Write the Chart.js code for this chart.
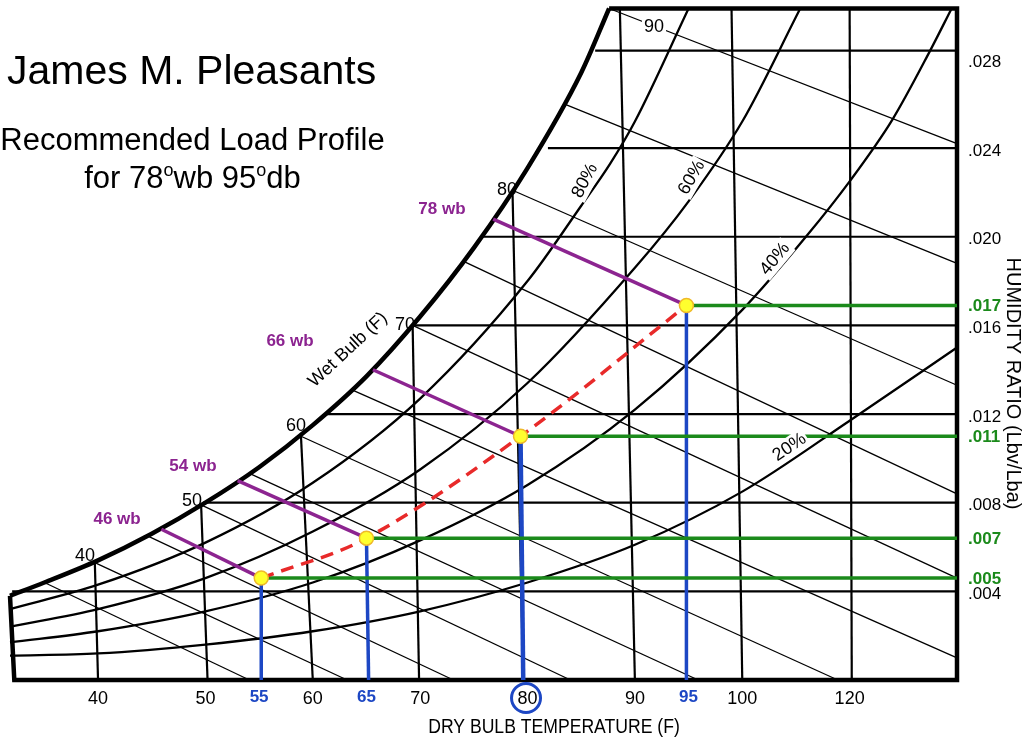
<!DOCTYPE html>
<html>
<head>
<meta charset="utf-8">
<script src="https://cdn.jsdelivr.net/npm/chart.js@4.4.1/dist/chart.umd.min.js"></script>
<style>
  body { margin: 0; background: #fff; font-family: "Liberation Sans", Arial, sans-serif; }
  #wrap { position: relative; width: 1027px; height: 742px; overflow: hidden; }
  canvas { position: absolute; left: 0; top: 0; }
  .t { position: absolute; color: #000; white-space: nowrap; line-height: 1; }
  .deg { font-size: 18px; position: relative; top: -12px; }
</style>
</head>
<body>
<div id="wrap">
  <canvas id="psyChart" width="1027" height="742"></canvas>
  <div class="t" style="left:7px; top:50px; font-size:41px;">James M. Pleasants</div>
  <div class="t" style="left:0; width:385px; text-align:center; top:124px; font-size:31px;">Recommended Load Profile</div>
  <div class="t" style="left:0; width:385px; text-align:center; top:162px; font-size:31px;">for 78<span class="deg">o</span>wb 95<span class="deg">o</span>db</div>
</div>
<script>
// axis extents: dry bulb (F) and humidity ratio (lb/lb)
const dbRange = [31.8, 120];
const wRange = [0, 0.0303];

// saturation curve (100% RH)
const satCurve = [[31.8,.0038],[35,.0044],[40,.0054],[45,.0066],[50,.0080],[55,.0096],[60,.0115],
  [65,.0137],[70,.0164],[75,.0195],[80,.0231],[85,.0274],[87.6,.0303]];

// relative humidity curves
const rh80 = [[31.8,.0032],[40,.0043],[50,.0062],[60,.0089],[70,.0127],[80,.0180],[85,.0214],[87.7,.0233],[90,.0252],[95,.0303]];
const rh60 = [[31.8,.0024],[40,.0032],[50,.0046],[60,.0067],[70,.0095],[80,.0134],[90,.0186],[95,.0216],[100,.0252],[105.4,.0303]];
const rh40 = [[31.8,.0017],[40,.0022],[50,.0031],[60,.0044],[70,.0063],[80,.0088],[90,.0122],[100,.0167],[106.1,.0201],[110,.0225],[114,.0253],[117.5,.0284],[119.5,.0303]];
const rh20 = [[31.8,.0011],[40,.0012],[50,.0016],[60,.0022],[70,.0031],[80,.0044],[90,.0061],[100,.0085],[110,.0117],[120,.0150]];

// wet bulb lines: start on saturation, end on bottom / right edge
const wbStart = [[35,.0044],[39.7,.0053],[44.6,.0065],[49.6,.0079],[54.2,.0093],[58.9,.0110],
  [63.6,.0131],[69.3,.0160],[74,.0189],[78.6,.0221],[83.4,.0260],[87.6,.0303]];
const wbEnd = [[54.1,0],[63.2,0],[73.1,0],[84,0],[95.9,0],[108.9,0],
  [120,.0010],[120,.0046],[120,.0084],[120,.0133],[120,.0188],[120,.0242]];

// dry bulb lines (slightly slanted)
const dbTop = [[39.7,.0053],[49.6,.0079],[58.9,.0110],[69.3,.0160],[78.6,.0221],[88.6,.0303],[99,.0303],[110,.0303]];
const dbBottom = [[40,0],[50.2,0],[60,0],[69.9,0],[79.6,0],[90,0],[100,0],[110.2,0]];

// horizontal humidity ratio lines
const wLines = [.004, .008, .012, .016, .020, .024, .0284];
const wLineStart = [32.0, 49.8, 61.1, 69.3, 75.7, 81.9, 86.3];

// recommended load profile
const loadDb = [55.2, 65.0, 79.35, 94.8];
const loadW = [.0046, .0064, .0110, .0169];
const loadDbBottom = [55.2, 65.2, 79.6, 94.8];
const loadWbStart = [[45.9,.0068],[53.0,.0090],[65.6,.0140],[76.8,.0208]];
const loadWbText = ['46 wb', '54 wb', '66 wb', '78 wb'];
const loadWbTextPos = [[41.77,.00723],[48.84,.00965],[57.88,.01526],[72.03,.02123]];
const loadWText = ['.005', '.007', '.011', '.017'];

// tick labels
const dbTickValues = [40, 50, 55, 60, 65, 70, 80, 90, 95, 100, 110];
const dbTickText = ['40', '50', '55', '60', '65', '70', '80', '90', '95', '100', '120'];
const dbHighlight = [55, 65, 95];
const dbCircled = 80;
const wTickValues = [.004, .008, .012, .016, .020, .024, .028];
const wTickText = ['.004', '.008', '.012', '.016', '.020', '.024', '.028'];

// curve labels
const wbLabelText = ['40', '50', '60', '70', '80', '90'];
const wbLabelPos = [[38.79,.00561],[48.75,.00808],[58.44,.01145],[68.59,.01603],[78.09,.02209],[91.78,.02945]];
const rhLabelText = ['80%', '60%', '40%', '20%'];
const rhLabelPos = [[85.35,.02253],[95.3,.02267],[103.05,.0190],[104.4,.0105]];
const rhLabelAngle = [-62, -60, -50, -34];

const FONT = '"Liberation Sans", Arial, sans-serif';
const PURPLE = '#8c2490', GREEN = '#1b8a1b', BLUE = '#1d47c4', RED = '#e82a2a';

function pts(arr) { return arr.map(p => ({ x: p[0], y: p[1] })); }

function lineSet(data, color, width, extra) {
    return Object.assign({
        data: pts(data), borderColor: color, borderWidth: width,
        pointRadius: 0, showLine: true, fill: false, tension: 0, clip: 8
    }, extra || {});
}

// first dataset ends up on top
const datasets = [];
datasets.push({
    data: pts(loadDb.map((d, i) => [d, loadW[i]])), showLine: false,
    pointRadius: 7, backgroundColor: '#ffff2e', borderColor: '#efb92a', borderWidth: 1.5, clip: 8
});
datasets.push(lineSet(loadDb.map((d, i) => [d, loadW[i]]), RED, 3.5, { borderDash: [13, 8], tension: 0.35 }));
loadWbStart.forEach((s, i) => datasets.push(lineSet([s, [loadDb[i], loadW[i]]], PURPLE, 3.5)));
loadDb.forEach((d, i) => datasets.push(lineSet([[d, loadW[i]], [dbRange[1], loadW[i]]], GREEN, 3.5)));
loadDb.forEach((d, i) => datasets.push(lineSet([[d, loadW[i]], [loadDbBottom[i], 0]], BLUE, i === 2 ? 4.5 : 3.5)));

// chart outline and saturation curve
datasets.push(lineSet(satCurve, '#000', 4.5, { cubicInterpolationMode: 'monotone' }));
datasets.push(lineSet([[87.6, wRange[1]], [dbRange[1], wRange[1]], [dbRange[1], 0], [32.2, 0], [31.8, .0038]],
    '#000', 4.5, { borderJoinStyle: 'miter' }));

// grid
dbTop.forEach((t, i) => datasets.push(lineSet([t, dbBottom[i]], '#000', 2.2)));
wLines.forEach((w, i) => datasets.push(lineSet([[wLineStart[i], w], [dbRange[1], w]], '#000', 2.2)));
[rh80, rh60, rh40, rh20].forEach(c => datasets.push(lineSet(c, '#000', 2.3, { cubicInterpolationMode: 'monotone' })));
wbStart.forEach((s, i) => datasets.push(lineSet([s, wbEnd[i]], '#000', 1.3)));

function drawText(ctx, str, x, y, o) {
    ctx.save();
    ctx.translate(x, y);
    if (o.rot) ctx.rotate(o.rot * Math.PI / 180);
    if (o.sx) ctx.scale(o.sx, 1);
    ctx.font = o.font;
    ctx.textAlign = o.align || 'center';
    ctx.textBaseline = 'middle';
    if (o.bg) {
        const w = ctx.measureText(str).width;
        const h = parseInt(o.font.match(/(\d+)px/)[1]);
        const x0 = o.align === 'left' ? 0 : -w / 2;
        ctx.fillStyle = '#fff';
        ctx.fillRect(x0 - 2, -h / 2 - 1, w + 4, h + 2);
    }
    ctx.fillStyle = o.color || '#000';
    ctx.fillText(str, 0, 0);
    ctx.restore();
}

const labelPlugin = {
    id: 'psyLabels',
    afterDatasetsDraw(chart) {
        const ctx = chart.ctx, xs = chart.scales.x, ys = chart.scales.y, area = chart.chartArea;
        const px = v => xs.getPixelForValue(v), py = v => ys.getPixelForValue(v);

        // wet bulb numbers on the saturation curve
        wbLabelText.forEach((s, i) => drawText(ctx, s, px(wbLabelPos[i][0]), py(wbLabelPos[i][1]),
            { font: '18px ' + FONT, bg: i === 5 }));
        drawText(ctx, 'Wet Bulb (F)', px(63.28), py(.0149), { font: '18px ' + FONT, rot: -43, bg: true });

        // RH labels
        rhLabelText.forEach((s, i) => drawText(ctx, s, px(rhLabelPos[i][0]), py(rhLabelPos[i][1]),
            { font: '18px ' + FONT, rot: rhLabelAngle[i], bg: true }));

        // load profile wet bulb labels
        loadWbText.forEach((s, i) => drawText(ctx, s, px(loadWbTextPos[i][0]), py(loadWbTextPos[i][1]),
            { font: 'bold 17px ' + FONT, color: PURPLE }));

        // x tick labels
        const ty = area.bottom + 19;
        dbTickValues.forEach((v, i) => {
            const hi = dbHighlight.includes(v);
            drawText(ctx, dbTickText[i], px(v), hi ? ty - 2 : ty,
                { font: (hi ? 'bold 17px ' : '18px ') + FONT, color: hi ? BLUE : '#000' });
        });
        ctx.save();
        ctx.beginPath();
        ctx.arc(px(dbCircled) - 1.5, ty - 1, 14.5, 0, Math.PI * 2);
        ctx.strokeStyle = BLUE;
        ctx.lineWidth = 3;
        ctx.stroke();
        ctx.restore();
        drawText(ctx, 'DRY BULB TEMPERATURE (F)', area.left + 544, area.bottom + 47,
            { font: '20px ' + FONT, sx: 0.88 });

        // y tick labels
        const lx = area.right + 11;
        wTickValues.forEach((v, i) => drawText(ctx, wTickText[i], lx, py(v) + 3,
            { font: '17px ' + FONT, align: 'left' }));
        loadW.forEach((v, i) => drawText(ctx, loadWText[i], lx, py(v) + 1,
            { font: 'bold 17px ' + FONT, align: 'left', color: GREEN }));
        drawText(ctx, 'HUMIDITY RATIO (Lbv/Lba)', area.right + 56, area.top + 375,
            { font: '20px ' + FONT, rot: 90 });
    }
};

new Chart(document.getElementById('psyChart'), {
    type: 'scatter',
    data: { datasets: datasets },
    options: {
        responsive: false,
        animation: false,
        layout: { padding: { left: 10, right: 70, top: 5, bottom: 62 } },
        scales: {
            x: { type: 'linear', min: dbRange[0], max: dbRange[1], display: false },
            y: { type: 'linear', min: wRange[0], max: wRange[1], display: false }
        },
        plugins: { legend: { display: false }, tooltip: { enabled: false } }
    },
    plugins: [labelPlugin]
});
</script>
</body>
</html>
